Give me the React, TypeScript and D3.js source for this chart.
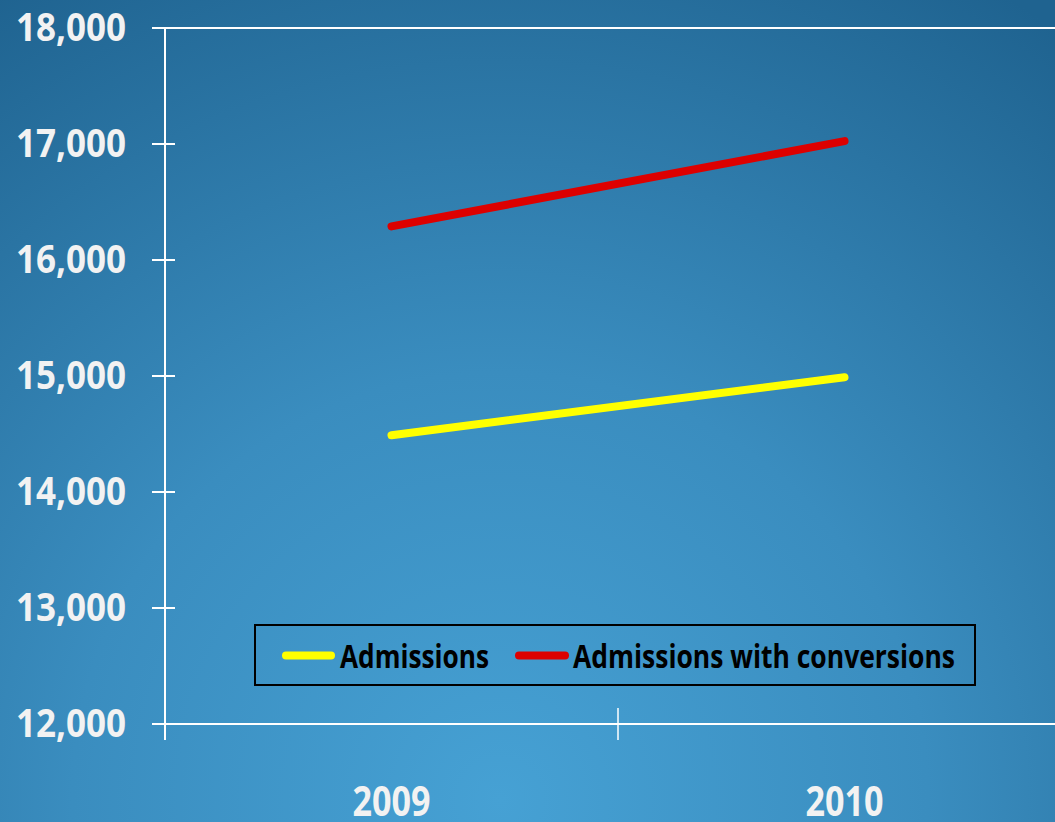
import React from "react";
import * as d3 from "d3";

const categories = ["2009", "2010"];
const admissions = [14490, 14990];
const admissionsWithConversions = [16290, 17025];
const yTicks = [12000, 13000, 14000, 15000, 16000, 17000, 18000];
const seriesNames = ["Admissions", "Admissions with conversions"];
const seriesColors = ["#ffff00", "#dd0000"];

const W = 1055;
const H = 822;

export default function App() {
  const x = d3.scaleBand<string>().domain(categories).range([165, 1071]).padding(0);
  const y = d3.scaleLinear().domain([12000, 18000]).range([724, 28]);
  const fmt = d3.format(",");
  const line = d3
    .line<number>()
    .x((_, i) => (x(categories[i]) as number) + x.bandwidth() / 2)
    .y((d) => y(d));
  const series = [admissions, admissionsWithConversions];
  const font = "'Open Sans', 'Noto Sans', sans-serif";
  const txt = "#f2f2f2";

  return (
    <svg
      width={W}
      height={H}
      style={{ position: "absolute", left: 0, top: 0, display: "block" }}
    >
      <defs>
        <radialGradient id="bg" cx="500" cy="800" r="950" gradientUnits="userSpaceOnUse">
          <stop offset="0" stopColor="#46a1d4" />
          <stop offset="0.45" stopColor="#3a8dbf" />
          <stop offset="1" stopColor="#1f6390" />
        </radialGradient>
      </defs>
      <rect x={0} y={0} width={W} height={H} fill="url(#bg)" />

      {/* top border */}
      <line x1={152} x2={W} y1={y(18000)} y2={y(18000)} stroke="#ffffff" strokeWidth={2} />
      {/* y axis */}
      <line x1={165} x2={165} y1={y(18000)} y2={740} stroke="#ffffff" strokeWidth={2} />
      {yTicks.map((t) => (
        <g key={t}>
          <line x1={152} x2={175} y1={y(t)} y2={y(t)} stroke="#ffffff" strokeWidth={2} />
          <text
            x={126}
            y={y(t)}
            dy="0.33em"
            textAnchor="end"
            fill={txt}
            fontFamily={font}
            fontWeight={700}
            fontSize={40}
            textLength={110}
            lengthAdjust="spacingAndGlyphs"
          >
            {fmt(t)}
          </text>
        </g>
      ))}
      {/* x axis */}
      <line x1={152} x2={W} y1={y(12000)} y2={y(12000)} stroke="#ffffff" strokeWidth={2} />
      {categories.slice(1).map((c) => (
        <line
          key={c}
          x1={x(c) as number}
          x2={x(c) as number}
          y1={708}
          y2={740}
          stroke="#ffffff"
          strokeWidth={1.5}
        />
      ))}
      {categories.map((c) => (
        <text
          key={c}
          x={(x(c) as number) + x.bandwidth() / 2}
          y={816}
          textAnchor="middle"
          fill={txt}
          fontFamily={font}
          fontWeight={700}
          fontSize={41}
          textLength={78}
          lengthAdjust="spacingAndGlyphs"
        >
          {c}
        </text>
      ))}

      {series.map((s, i) => (
        <path
          key={i}
          d={line(s) as string}
          fill="none"
          stroke={seriesColors[i]}
          strokeWidth={8}
          strokeLinecap="round"
        />
      ))}

      {/* legend */}
      <rect x={255} y={625} width={720} height={60} fill="none" stroke="#000000" strokeWidth={2} />
      <line x1={286} x2={331} y1={655.5} y2={655.5} stroke={seriesColors[0]} strokeWidth={8} strokeLinecap="round" />
      <text
        x={340}
        y={668}
        fill="#000000"
        fontFamily={font}
        fontWeight={700}
        fontSize={32}
        textLength={149}
        lengthAdjust="spacingAndGlyphs"
      >
        {seriesNames[0]}
      </text>
      <line x1={519} x2={565} y1={655.5} y2={655.5} stroke={seriesColors[1]} strokeWidth={8} strokeLinecap="round" />
      <text
        x={573}
        y={668}
        fill="#000000"
        fontFamily={font}
        fontWeight={700}
        fontSize={32}
        textLength={382}
        lengthAdjust="spacingAndGlyphs"
      >
        {seriesNames[1]}
      </text>
    </svg>
  );
}
